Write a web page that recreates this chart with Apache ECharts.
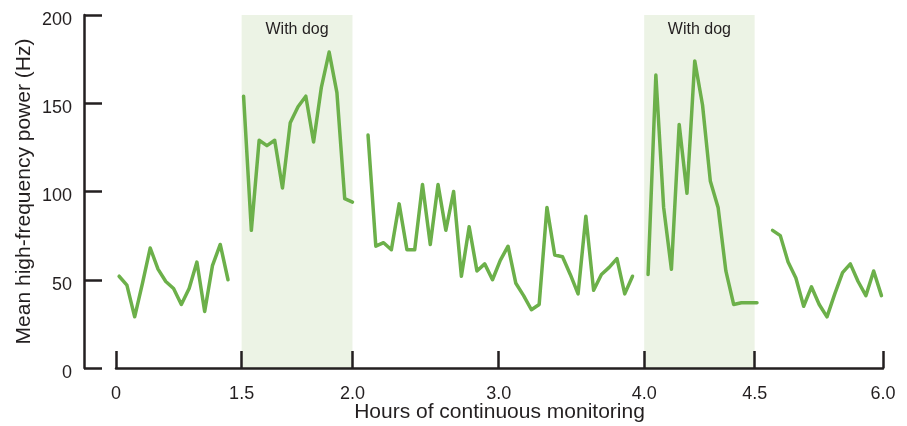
<!DOCTYPE html>
<html>
<head>
<meta charset="utf-8">
<script src="https://cdn.jsdelivr.net/npm/echarts@6/dist/echarts.min.js"></script>
<style>
  html, body { margin: 0; padding: 0; background: #ffffff; }
  #chart { width: 907px; height: 426px; }
</style>
</head>
<body>
<div id="chart"></div>
<script>
// Mean high-frequency power, one reading per sample slot; null = no recording
const power = [
  52, 47, 29, 48, 68, 56, 49, 45, 36, 45, 60, 32, 58, 70, 50,
  null,
  154, 78, 129, 126, 129, 102, 139, 148, 154, 128, 159, 179, 156, 96, 94,
  null,
  132, 69, 71, 67, 93, 67, 67, 104, 70, 104, 78, 100, 52, 80, 55, 59, 50, 61,
  69, 48, 41, 33, 36, 91, 64, 63, 53, 42, 86, 44, 53, 57, 62, 42, 52,
  null,
  53, 166, 91, 56, 138, 99, 174, 149, 106, 91, 55, 36, 37, 37, 37,
  null,
  78, 75, 60, 51, 35, 46, 36, 29, 42, 54, 59, 49, 41, 55, 41
];

// Hour marks along the monitoring timeline (sample-slot units)
const tickLabels = ['0', '1.5', '2.0', '3.0', '4.0', '4.5', '6.0'];
const tickAt = [-0.4, 15.75, 30.0, 48.8, 67.5, 81.7, 98.2];

// Periods when the dog was present: [start hour label, end hour label]
const dogPeriods = [['1.5', '2.0'], ['4.0', '4.5']];
const dogLabel = 'With dog';

const INK = '#231f20';
const GREEN = '#6cb04a';
const SHADE = '#ecf3e5';
const FONT = 'Liberation Sans, Arial, sans-serif';

const points = power.map((v, i) => [i, v]);
const slotOf = lbl => tickAt[tickLabels.indexOf(lbl)];

const chart = echarts.init(document.getElementById('chart'), null, { renderer: 'canvas' });
chart.setOption({
  animation: false,
  backgroundColor: '#ffffff',
  grid: { left: 116, right: 24, top: 15, bottom: 58, outerBoundsMode: 'none', containLabel: false },
  xAxis: {
    type: 'value',
    z: 10,
    min: tickAt[0],
    max: tickAt[tickAt.length - 1],
    name: 'Hours of continuous monitoring',
    nameLocation: 'middle',
    nameGap: 34,
    nameMoveOverlap: false,
    nameTextStyle: { color: INK, fontSize: 21, fontFamily: FONT },
    axisLine: { show: true, onZero: false, lineStyle: { color: INK, width: 2.5 } },
    axisTick: {
      show: true, inside: true, length: 17,
      customValues: tickAt,
      lineStyle: { color: INK, width: 2.5 }
    },
    axisLabel: {
      customValues: tickAt,
      margin: 17,
      color: INK, fontSize: 18, fontFamily: FONT,
      formatter: v => {
        let best = 0;
        tickAt.forEach((t, i) => { if (Math.abs(t - v) < Math.abs(tickAt[best] - v)) best = i; });
        return tickLabels[best];
      }
    },
    splitLine: { show: false }
  },
  yAxis: {
    type: 'value',
    z: 10,
    min: 0, max: 200, interval: 50,
    offset: 32,
    name: 'Mean high-frequency power (Hz)',
    nameLocation: 'middle',
    nameGap: 49,
    nameMoveOverlap: false,
    nameTextStyle: { color: INK, fontSize: 21, fontFamily: FONT },
    axisLine: { show: true, onZero: false, lineStyle: { color: INK, width: 2.5 } },
    axisTick: { show: true, inside: true, length: 18, lineStyle: { color: INK, width: 2.5 } },
    axisLabel: {
      margin: 12, verticalAlign: 'top', lineHeight: 10,
      color: INK, fontSize: 18, fontFamily: FONT
    },
    splitLine: { show: false }
  },
  series: [{
    type: 'line',
    data: points,
    connectNulls: false,
    showSymbol: false,
    lineStyle: { color: GREEN, width: 3.5, join: 'round', cap: 'round' },
    itemStyle: { color: GREEN },
    z: 3,
    markArea: {
      silent: true,
      itemStyle: { color: SHADE },
      label: {
        show: true, position: 'insideTop', distance: 7,
        color: INK, fontSize: 16, fontFamily: FONT
      },
      data: dogPeriods.map(([a, b]) => [
        { name: dogLabel, xAxis: slotOf(a) },
        { xAxis: slotOf(b) }
      ])
    }
  }]
});
</script>
</body>
</html>
